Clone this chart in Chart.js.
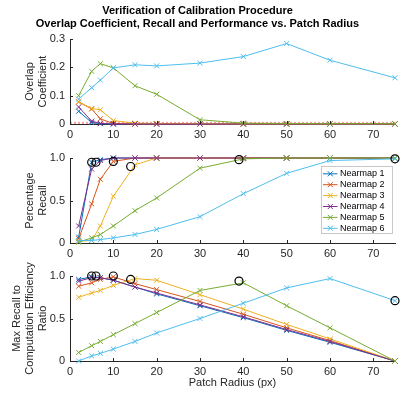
<!DOCTYPE html>
<html>
<head>
<meta charset="utf-8">
<script src="https://cdn.jsdelivr.net/npm/chart.js@4"></script>
<style>
body { margin: 0; background: #fff; }
#wrap { position: relative; width: 404px; height: 397px; }
canvas { position: absolute; left: 0; top: 0; }
</style>
</head>
<body>
<div id="wrap">
  <canvas id="c1" width="404" height="397"></canvas>
  <canvas id="c2" width="404" height="397"></canvas>
  <canvas id="c3" width="404" height="397"></canvas>
</div>
<script>
// patch radius values (x axis)
const radius = [2, 5, 7, 10, 15, 20, 30, 40, 50, 60, 75];
const names = ['Nearmap 1', 'Nearmap 2', 'Nearmap 3', 'Nearmap 4', 'Nearmap 5', 'Nearmap 6'];
const colors = ['#0072BD', '#D95319', '#EDB120', '#7E2F8E', '#77AC30', '#4DBEEE'];

// overlap coefficient
const overlap1 = [0.045, 0.005, 0.001, 0, 0, 0, 0, 0, 0, 0, 0];
const overlap2 = [0.078, 0.053, 0.018, 0.002, 0, 0, 0, 0, 0, 0, 0];
const overlap3 = [0.078, 0.055, 0.05, 0.012, 0.003, 0.002, 0.001, 0, 0, 0, 0];
const overlap4 = [0.06, 0.01, 0.002, 0, 0, 0, 0, 0, 0, 0, 0];
const overlap5 = [0.10, 0.186, 0.213, 0.198, 0.135, 0.105, 0.015, 0.003, 0.002, 0.001, 0.001];
const overlap6 = [0.088, 0.128, 0.155, 0.198, 0.209, 0.205, 0.215, 0.238, 0.284, 0.225, 0.163];
const overlapLimit = 0.004;

// percentage recall
const recall1 = [0.07, 0.95, 0.98, 1, 1, 1, 1, 1, 1, 1, 1];
const recall2 = [0.05, 0.46, 0.75, 0.96, 1, 1, 1, 1, 1, 1, 1];
const recall3 = [0.02, 0.03, 0.2, 0.55, 0.92, 1, 1, 1, 1, 1, 1];
const recall4 = [0.2, 0.87, 0.97, 1, 1, 1, 1, 1, 1, 1, 1];
const recall5 = [0.01, 0.06, 0.1, 0.2, 0.38, 0.53, 0.88, 0.99, 1, 1, 1];
const recall6 = [0.03, 0.03, 0.04, 0.06, 0.1, 0.16, 0.31, 0.58, 0.82, 0.97, 0.99];

// max recall to computation efficiency ratio
const ratio1 = [0.96, 0.99, 0.98, 0.95, 0.87, 0.79, 0.65, 0.51, 0.36, 0.22, 0];
const ratio2 = [0.88, 0.92, 0.96, 0.99, 0.91, 0.84, 0.70, 0.55, 0.39, 0.24, 0];
const ratio3 = [0.75, 0.80, 0.83, 0.89, 0.97, 0.95, 0.78, 0.61, 0.43, 0.26, 0];
const ratio4 = [0.94, 0.98, 0.98, 0.95, 0.87, 0.80, 0.66, 0.52, 0.37, 0.23, 0];
const ratio5 = [0.10, 0.18, 0.23, 0.31, 0.44, 0.57, 0.83, 0.92, 0.65, 0.39, 0];
const ratio6 = [0, 0.06, 0.09, 0.14, 0.23, 0.33, 0.50, 0.68, 0.86, 0.97, 0.71];

// chosen radius per nearmap (circles)
const bestRadius = [5, 6, 10, 14, 39, 75];
const bestRecall = [0.95, 0.95, 0.96, 0.90, 0.98, 0.99];
const bestRatio = [1.0, 1.0, 1.0, 0.96, 0.94, 0.71];

const FONT = '"Liberation Sans", Arial, Helvetica, sans-serif';
const TXT = '#262626';

function seriesSets(list) {
  return list.map((vals, i) => ({
    label: names[i],
    data: radius.map((r, j) => ({ x: r, y: vals[j] })),
    borderColor: colors[i],
    backgroundColor: colors[i],
    borderWidth: 1,
    pointStyle: 'crossRot',
    pointRadius: 3.5,
    pointBorderWidth: 1,
    showLine: true,
    clip: false,
    order: 6 - i
  }));
}

function circleSet(ys) {
  return {
    label: '',
    data: bestRadius.map((r, j) => ({ x: r, y: ys[j] })),
    borderColor: '#000',
    backgroundColor: 'rgba(0,0,0,0)',
    pointStyle: 'circle',
    pointRadius: 4,
    pointBorderWidth: 1.2,
    showLine: false,
    clip: false,
    order: -1
  };
}

// MATLAB style ticks pointing into the axes
const inwardTicks = {
  id: 'inwardTicks',
  afterDraw(chart) {
    const { ctx, chartArea, scales } = chart;
    ctx.save();
    ctx.strokeStyle = TXT;
    ctx.lineWidth = 1;
    ctx.beginPath();
    scales.x.ticks.forEach(t => {
      const px = Math.round(scales.x.getPixelForValue(t.value)) + 0.5;
      ctx.moveTo(px, chartArea.bottom);
      ctx.lineTo(px, chartArea.bottom - 3);
    });
    scales.y.ticks.forEach(t => {
      const py = Math.round(scales.y.getPixelForValue(t.value)) + 0.5;
      ctx.moveTo(chartArea.left, py);
      ctx.lineTo(chartArea.left + 3, py);
    });
    ctx.stroke();
    ctx.restore();
  }
};

// legend box inside the recall axes
const boxLegend = {
  id: 'boxLegend',
  afterDraw(chart) {
    if (!chart.options.plugins.boxLegend) return;
    const { ctx, chartArea } = chart;
    const items = chart.data.datasets.filter(d => d.label);
    const rowH = 10.9, w = 71, h = 67;
    const x0 = Math.round(chartArea.right - 74.5) + 0.5, y0 = Math.round(chartArea.top + 8) + 0.5;
    ctx.save();
    ctx.fillStyle = '#fff';
    ctx.fillRect(x0, y0, w, h);
    ctx.strokeStyle = '#c8c8c8';
    ctx.lineWidth = 1;
    ctx.strokeRect(x0, y0, w, h);
    ctx.font = '9px ' + FONT;
    ctx.textBaseline = 'middle';
    items.forEach((d, i) => {
      const cy = y0 + 7.3 + rowH * i;
      ctx.strokeStyle = d.borderColor;
      ctx.beginPath();
      ctx.moveTo(x0 + 1.5, cy);
      ctx.lineTo(x0 + 16, cy);
      const m = x0 + 8.8, r = 2.5;
      ctx.moveTo(m - r, cy - r); ctx.lineTo(m + r, cy + r);
      ctx.moveTo(m - r, cy + r); ctx.lineTo(m + r, cy - r);
      ctx.stroke();
      ctx.fillStyle = '#000';
      ctx.fillText(d.label, x0 + 18.5, cy);
    });
    ctx.restore();
  }
};

function makeChart(id, datasets, cfg) {
  return new Chart(document.getElementById(id), {
    type: 'scatter',
    data: { datasets: datasets },
    plugins: [inwardTicks, boxLegend],
    options: {
      responsive: false,
      animation: false,
      devicePixelRatio: 1,
      events: [],
      layout: { padding: { top: cfg.top, bottom: 397 - cfg.bottom - cfg.xh, left: 0, right: 9 } },
      plugins: {
        legend: { display: false },
        tooltip: { enabled: false },
        boxLegend: cfg.legend || false,
        title: {
          display: !!cfg.mainTitle,
          text: cfg.mainTitle || '',
          color: '#000',
          font: { family: FONT, size: 11, weight: 'bold' },
          padding: { top: 4, bottom: 8.6 }
        }
      },
      scales: {
        x: {
          type: 'linear',
          min: 0,
          max: 75,
          afterFit: s => { s.height = cfg.xh; },
          afterBuildTicks: s => { s.ticks = s.ticks.filter(t => t.value % 10 === 0); },
          grid: { display: false, drawTicks: false },
          border: { display: true, color: TXT, width: 1 },
          ticks: { stepSize: 10, padding: 4, color: TXT, font: { family: FONT, size: 11 } },
          title: {
            display: !!cfg.xTitle,
            text: cfg.xTitle || '',
            color: TXT,
            font: { family: FONT, size: 11 },
            padding: { top: 0, bottom: 3 }
          }
        },
        y: {
          min: 0,
          max: cfg.yMax,
          afterFit: s => { s.width = 70; },
          grid: { display: false, drawTicks: false },
          border: { display: true, color: TXT, width: 1 },
          ticks: { stepSize: cfg.yStep, padding: 5, color: TXT, font: { family: FONT, size: 11 } },
          title: {
            display: true,
            text: cfg.yTitle,
            color: TXT,
            font: { family: FONT, size: 11, lineHeight: 1.15 },
            padding: { top: cfg.yTitlePad, bottom: 0 }
          }
        }
      }
    }
  });
}

const limitSet = {
  label: '',
  data: [{ x: 0, y: overlapLimit }, { x: 75, y: overlapLimit }],
  borderColor: 'rgba(255,60,60,0.5)',
  borderWidth: 2,
  borderDash: [2, 2],
  pointRadius: 0,
  showLine: true,
  order: 10
};

makeChart('c1', [limitSet].concat(seriesSets([overlap1, overlap2, overlap3, overlap4, overlap5, overlap6])), {
  top: 0, bottom: 124, xh: 20, yMax: 0.3, yStep: 0.1,
  yTitle: ['Overlap', 'Coefficient'], yTitlePad: 24,
  mainTitle: ['Verification of Calibration Procedure', 'Overlap Coefficient, Recall and Performance vs. Patch Radius']
});

makeChart('c2', seriesSets([recall1, recall2, recall3, recall4, recall5, recall6]).concat([circleSet(bestRecall)]), {
  top: 158, bottom: 243, xh: 20, yMax: 1, yStep: 0.5,
  yTitle: ['Percentage', 'Recall'], yTitlePad: 24, legend: true
});

makeChart('c3', seriesSets([ratio1, ratio2, ratio3, ratio4, ratio5, ratio6]).concat([circleSet(bestRatio)]), {
  top: 276, bottom: 361, xh: 32, yMax: 1, yStep: 0.5,
  yTitle: ['Max Recall to', 'Computation Efficiency', 'Ratio'], yTitlePad: 11,
  xTitle: 'Patch Radius (px)'
});
</script>
</body>
</html>
